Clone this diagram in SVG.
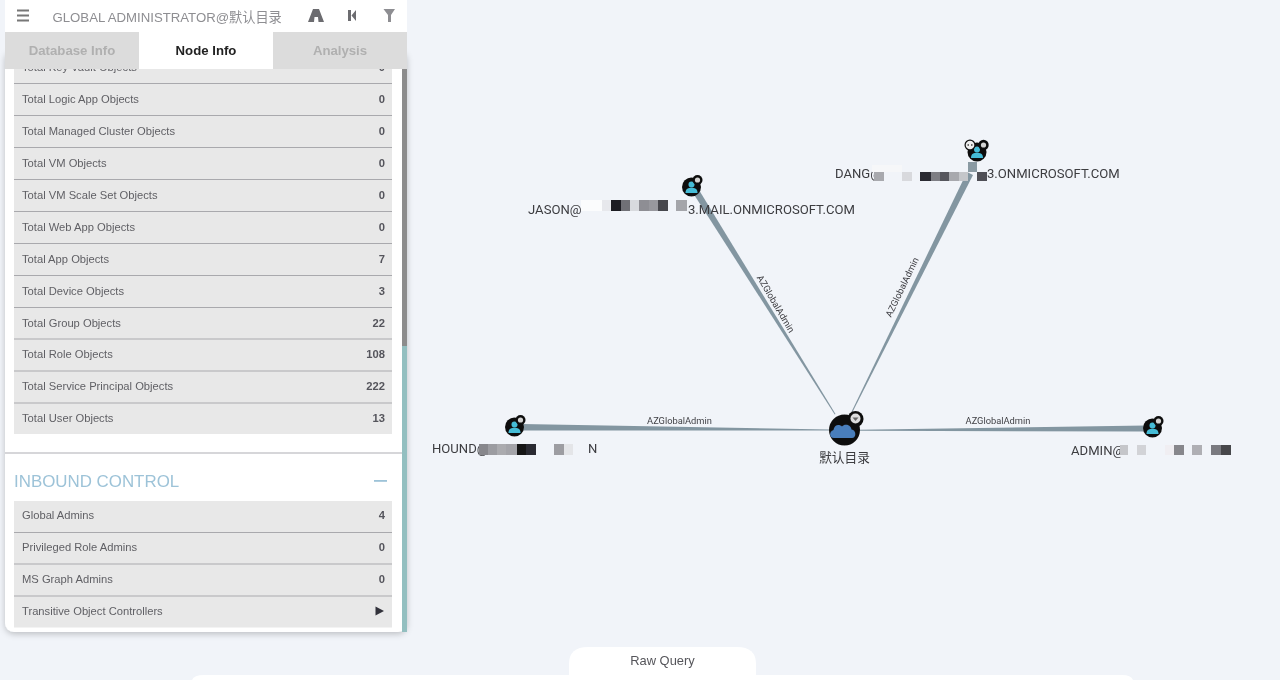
<svg xmlns="http://www.w3.org/2000/svg" width="1280" height="680" viewBox="0 0 1280 680">
<defs>
<style>
text{font-family:"Liberation Sans","Noto Sans CJK SC",sans-serif}
.row{fill:#e8e8e8}
.sep{stroke:#a9a9ad;stroke-width:1.2}
.rl{font-size:11.2px;fill:#5f5f64}
.rv{font-size:11.2px;font-weight:bold;fill:#55555c;text-anchor:end}
.tab{font-size:13.2px;font-weight:bold;text-anchor:middle}
.nl{font-family:Roboto,"Noto Sans CJK SC",sans-serif;font-size:13.1px;fill:#3c3c40}
.el{font-family:Roboto,sans-serif;font-size:9.3px;fill:#3f3f44;text-anchor:middle}
.edge{fill:#8396a1}
.icon{fill:#111}
.person{fill:#45bcd6}
.badge{fill:#111}
.badgein{fill:#d4d4d4}
.px{shape-rendering:crispEdges}
</style>
<filter id="soft" x="-2%" y="-2%" width="104%" height="104%"><feGaussianBlur stdDeviation="0.5"/></filter>
<filter id="shadow" x="-5%" y="-5%" width="110%" height="110%"><feDropShadow dx="0" dy="2" stdDeviation="3" flood-color="#000" flood-opacity="0.22"/></filter>
<g id="user-icon">
<circle cx="0" cy="0" r="9.5" class="icon"/>
<circle cx="0" cy="-2.6" r="3" class="person"/>
<path d="M-6 6 C-6 1.6 -3 0.8 0 0.8 C3 0.8 6 1.6 6 6 Z" class="person"/>
<circle cx="6" cy="-7" r="5" class="badge"/>
<circle cx="6" cy="-7" r="2.6" class="badgein"/>
</g>
</defs>
<rect width="1280" height="680" fill="#f1f4f9"/>
<g filter="url(#soft)">
<g id="raw-query">
<path d="M569 680V664Q569 647 588 647H737Q756 647 756 664V680Z" fill="#fff"/>
<text x="662.500" y="664.500" font-size="12.900" fill="#55555a" text-anchor="middle">Raw Query</text>
<path d="M192 680Q194 675 204 675H1122Q1131 675 1133 680Z" fill="#fff"/>
</g>
<g id="connectors">
<polygon class="edge" points="693,193 699,190 835.500,414 834.700,414.500"/>
<text class="el" transform="translate(773 305.500) rotate(59.500)">AZGlobalAdmin</text>
<polygon class="edge" points="967,172 973,175 851,415 850.200,414.500"/>
<text class="el" transform="translate(905 288.500) rotate(-64.500)">AZGlobalAdmin</text>
<polygon class="edge" points="522,424 522,430.500 830,430.500 830,429.500"/>
<text class="el" x="679.500" y="424">AZGlobalAdmin</text>
<polygon class="edge" points="1146,425.500 1146,431.500 858,430.800 858,429.800"/>
<text class="el" x="998" y="424">AZGlobalAdmin</text>
</g>
<g id="node-jason">
<use href="#user-icon" x="691.500" y="187"/>
<text class="nl" x="528" y="213.500">JASON@</text>
<g class="px">
<rect x="581" y="200" width="21" height="11" fill="#fbfcfd"/>
<rect x="602" y="200" width="9" height="11" fill="#e7e8ec"/>
<rect x="611" y="200" width="10" height="11" fill="#1d1d24"/>
<rect x="621" y="200" width="9" height="11" fill="#707076"/>
<rect x="630" y="200" width="9" height="11" fill="#d8dade"/>
<rect x="639" y="200" width="10" height="11" fill="#8e8e94"/>
<rect x="649" y="200" width="9" height="11" fill="#98989e"/>
<rect x="658" y="200" width="10" height="11" fill="#46464e"/>
<rect x="676" y="200" width="11" height="11" fill="#a4a5aa"/>
</g>
<text class="nl" x="688" y="213.500">3.MAIL.ONMICROSOFT.COM</text>
</g>
<g id="node-dang">
<circle cx="977" cy="152" r="9.500" class="icon"/>
<circle cx="977" cy="149.400" r="3" class="person"/>
<path d="M971 158C971 153.600 974 152.800 977 152.800C980 152.800 983 153.600 983 158Z" class="person"/>
<circle cx="983.500" cy="145" r="5.200" class="badge"/>
<circle cx="983.500" cy="145" r="2.600" class="badgein"/>
<circle cx="970" cy="145" r="5.500" class="badge"/>
<circle cx="970" cy="145" r="4.300" fill="#eee"/>
<path d="M967.500 145H969M971 145H972.500" stroke="#444" stroke-width="1.300"/>
<text class="nl" x="835" y="177.500">DANG@</text>
<g class="px">
<rect x="872" y="165" width="30" height="7" fill="#f6f7f9"/>
<rect x="874" y="172" width="10" height="9" fill="#a8a9ae"/>
<rect x="902" y="172" width="10" height="9" fill="#d8d9dd"/>
<rect x="920" y="172" width="11" height="9" fill="#2c2c33"/>
<rect x="931" y="172" width="9" height="9" fill="#7e7e84"/>
<rect x="940" y="172" width="9" height="9" fill="#56565d"/>
<rect x="949" y="172" width="10" height="9" fill="#a8a9ae"/>
<rect x="959" y="172" width="9" height="9" fill="#c4c6ca"/>
<rect x="968" y="162" width="9" height="10" fill="#8a9aa3"/>
<rect x="977" y="172" width="10" height="9" fill="#4f4f56"/>
</g>
<text class="nl" x="987" y="177.500">3.ONMICROSOFT.COM</text>
</g>
<g id="node-hound">
<use href="#user-icon" x="514.500" y="427"/>
<text class="nl" x="432" y="452.500">HOUND@</text>
<g class="px">
<rect x="479" y="444" width="9" height="11" fill="#87878c"/>
<rect x="488" y="444" width="9" height="11" fill="#9c9ca1"/>
<rect x="497" y="444" width="9" height="11" fill="#ababaf"/>
<rect x="506" y="444" width="11" height="11" fill="#a4a4a9"/>
<rect x="517" y="444" width="9" height="11" fill="#141418"/>
<rect x="526" y="444" width="10" height="11" fill="#2a2a30"/>
<rect x="554" y="444" width="10" height="11" fill="#9d9da2"/>
<rect x="564" y="444" width="9" height="11" fill="#e4e5e8"/>
</g>
<text class="nl" x="588" y="452.500">N</text>
</g>
<g id="node-admin">
<use href="#user-icon" x="1152.500" y="428"/>
<text class="nl" x="1071" y="454.500">ADMIN@</text>
<g class="px">
<rect x="1120" y="445" width="8" height="10" fill="#c5c6ca"/>
<rect x="1137" y="445" width="9" height="10" fill="#d2d3d7"/>
<rect x="1165" y="445" width="9" height="10" fill="#f0eef2"/>
<rect x="1174" y="445" width="10" height="10" fill="#87878c"/>
<rect x="1192" y="445" width="10" height="10" fill="#afafb4"/>
<rect x="1211" y="445" width="10" height="10" fill="#7a7a80"/>
<rect x="1221" y="445" width="10" height="10" fill="#46464c"/>
</g>
</g>
<g id="node-tenant">
<circle cx="844.500" cy="430" r="15.500" class="icon"/>
<path d="M834 438C829 438 829 431 833.500 430C834 425 839 423.500 842 426.500C845 423 851 425 851.500 429.500C856.500 430 856.500 438 852 438Z" fill="#4a7ebb"/>
<circle cx="855.500" cy="419" r="8" class="badge"/>
<circle cx="855.500" cy="418.500" r="5" fill="#ddd"/>
<path d="M852.500 417.500H858.500L855.500 421Z" fill="#666"/>
<text x="844.500" y="461.500" font-size="12.700" fill="#3c3c40" text-anchor="middle">默认目录</text>
</g>
<g id="panel">
<rect x="5" y="50" width="402" height="582" rx="9" fill="#fff" filter="url(#shadow)"/>
<rect x="402" y="69" width="5" height="277" fill="#8c8c8c"/>
<path d="M402 346H407V632H402Z" fill="#93bfc0"/>
<rect class="row" x="14" y="60" width="378" height="374"/>
<path class="sep" d="M14 83.500H392M14 115.500H392M14 147.500H392M14 179.500H392M14 211.500H392M14 243.500H392M14 275.500H392M14 307.500H392M14 339H392M14 371H392M14 403H392"/>
<text class="rl" x="22" y="71">Total Key Vault Objects</text><text class="rv" x="385" y="71">0</text>
<text class="rl" x="22" y="103">Total Logic App Objects</text><text class="rv" x="385" y="103">0</text>
<text class="rl" x="22" y="135">Total Managed Cluster Objects</text><text class="rv" x="385" y="135">0</text>
<text class="rl" x="22" y="167">Total VM Objects</text><text class="rv" x="385" y="167">0</text>
<text class="rl" x="22" y="199">Total VM Scale Set Objects</text><text class="rv" x="385" y="199">0</text>
<text class="rl" x="22" y="231">Total Web App Objects</text><text class="rv" x="385" y="231">0</text>
<text class="rl" x="22" y="263">Total App Objects</text><text class="rv" x="385" y="263">7</text>
<text class="rl" x="22" y="295">Total Device Objects</text><text class="rv" x="385" y="295">3</text>
<text class="rl" x="22" y="327">Total Group Objects</text><text class="rv" x="385" y="327">22</text>
<text class="rl" x="22" y="358">Total Role Objects</text><text class="rv" x="385" y="358">108</text>
<text class="rl" x="22" y="390">Total Service Principal Objects</text><text class="rv" x="385" y="390">222</text>
<text class="rl" x="22" y="422">Total User Objects</text><text class="rv" x="385" y="422">13</text>
<path d="M5 453H402" stroke="#c9c9cd" stroke-width="1.500"/>
<text x="14" y="486.500" font-size="16.900" fill="#9dc3d8">INBOUND CONTROL</text>
<rect x="374" y="480" width="13" height="1.800" fill="#9dc3d8"/>
<rect class="row" x="14" y="501" width="378" height="126.500"/>
<path class="sep" d="M14 532.500H392M14 564H392M14 596H392"/>
<text class="rl" x="22" y="519">Global Admins</text><text class="rv" x="385" y="519">4</text>
<text class="rl" x="22" y="551">Privileged Role Admins</text><text class="rv" x="385" y="551">0</text>
<text class="rl" x="22" y="583">MS Graph Admins</text><text class="rv" x="385" y="583">0</text>
<text class="rl" x="22" y="615">Transitive Object Controllers</text>
<path d="M375.500 606.500L384 611L375.500 615.500Z" fill="#33333a"/>
<rect x="5" y="0" width="402" height="32" fill="#fff"/>
<rect x="5" y="32" width="134" height="37" fill="#dcdcdc"/>
<rect x="139" y="32" width="134" height="37" fill="#fff"/>
<rect x="273" y="32" width="134" height="37" fill="#dcdcdc"/>
<text class="tab" x="72" y="55" fill="#b0b0b0">Database Info</text>
<text class="tab" x="206" y="55" fill="#222">Node Info</text>
<text class="tab" x="340" y="55" fill="#b0b0b0">Analysis</text>
<path d="M17 10.500H29M17 15.500H29M17 20.500H29" stroke="#777" stroke-width="2"/>
<text x="52.500" y="21.500" font-size="13.200" fill="#8e8e92">GLOBAL ADMINISTRATOR@默认目录</text>
<path d="M313 9H319L324 22H318.500L318 17H314.500L314 22H308Z" fill="#6c6c70"/>
<path d="M348 10H351V21H348ZM356 10V21L351.500 15.500Z" fill="#6c6c70"/>
<path d="M383.500 9H395L391 15V22H388V15Z" fill="#8e8e92"/>
</g>
</g>
</svg>
